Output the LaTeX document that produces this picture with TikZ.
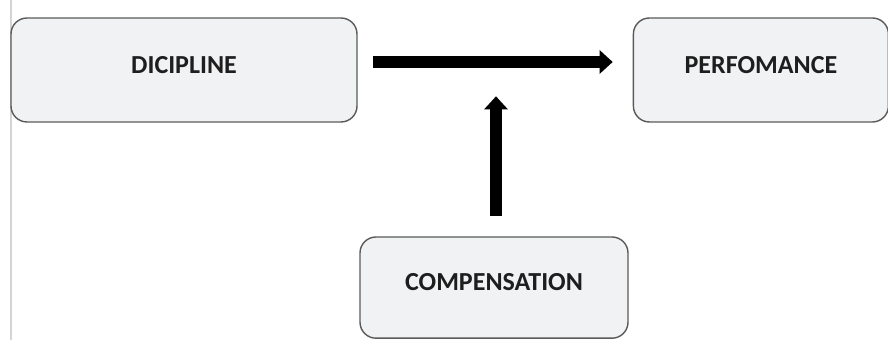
\documentclass[tikz,border=0pt]{standalone}
\usepackage{fontspec}
\setmainfont{Carlito}
\usetikzlibrary{positioning}
\usetikzlibrary{arrows.meta}
\definecolor{boxfill}{RGB}{241,242,244}
\definecolor{boxline}{RGB}{90,90,90}
\definecolor{textdark}{RGB}{30,30,30}
\definecolor{rule}{RGB}{212,212,212}
\tikzset{node distance=6.875cm,
    box/.style={
        draw=boxline,
        fill=boxfill,
        line width=1pt,
        rounded corners=0.4cm,
        font=\bfseries\fontsize{18.5}{22}\selectfont,
        text=textdark,
        text height=0.43cm,
        text depth=0.26cm},
    flow/.style={
        draw,
        line width=0.3cm,
        -{Triangle[width=0.58cm,length=0.33cm]}}}

\begin{document}
\begin{tikzpicture}
        \useasboundingbox (0,0) rectangle (22.2,8.5);
        \draw[rule,line width=1.2pt] (0.275,0) -- (0.275,8.5);

        \node[box,minimum width=8.65cm,minimum height=2.6cm] (dicipline) at (4.6,6.75) {DICIPLINE};
        \node[box,right=of dicipline,minimum width=6.375cm,minimum height=2.6cm] (perfomance) {PERFOMANCE};
        \node[box,minimum width=6.7cm,minimum height=2.53cm] (compensation) at (12.35,1.31) {COMPENSATION};

        \draw[flow] ([shift={(0.375,0.2)}]dicipline.east) -- ([shift={(-0.5,0.2)}]perfomance.west);
        \draw[flow] ([shift={(0.05,0.5)}]compensation.north) -- ([shift={(0.05,3.5)}]compensation.north);
    \end{tikzpicture}
\end{document}
